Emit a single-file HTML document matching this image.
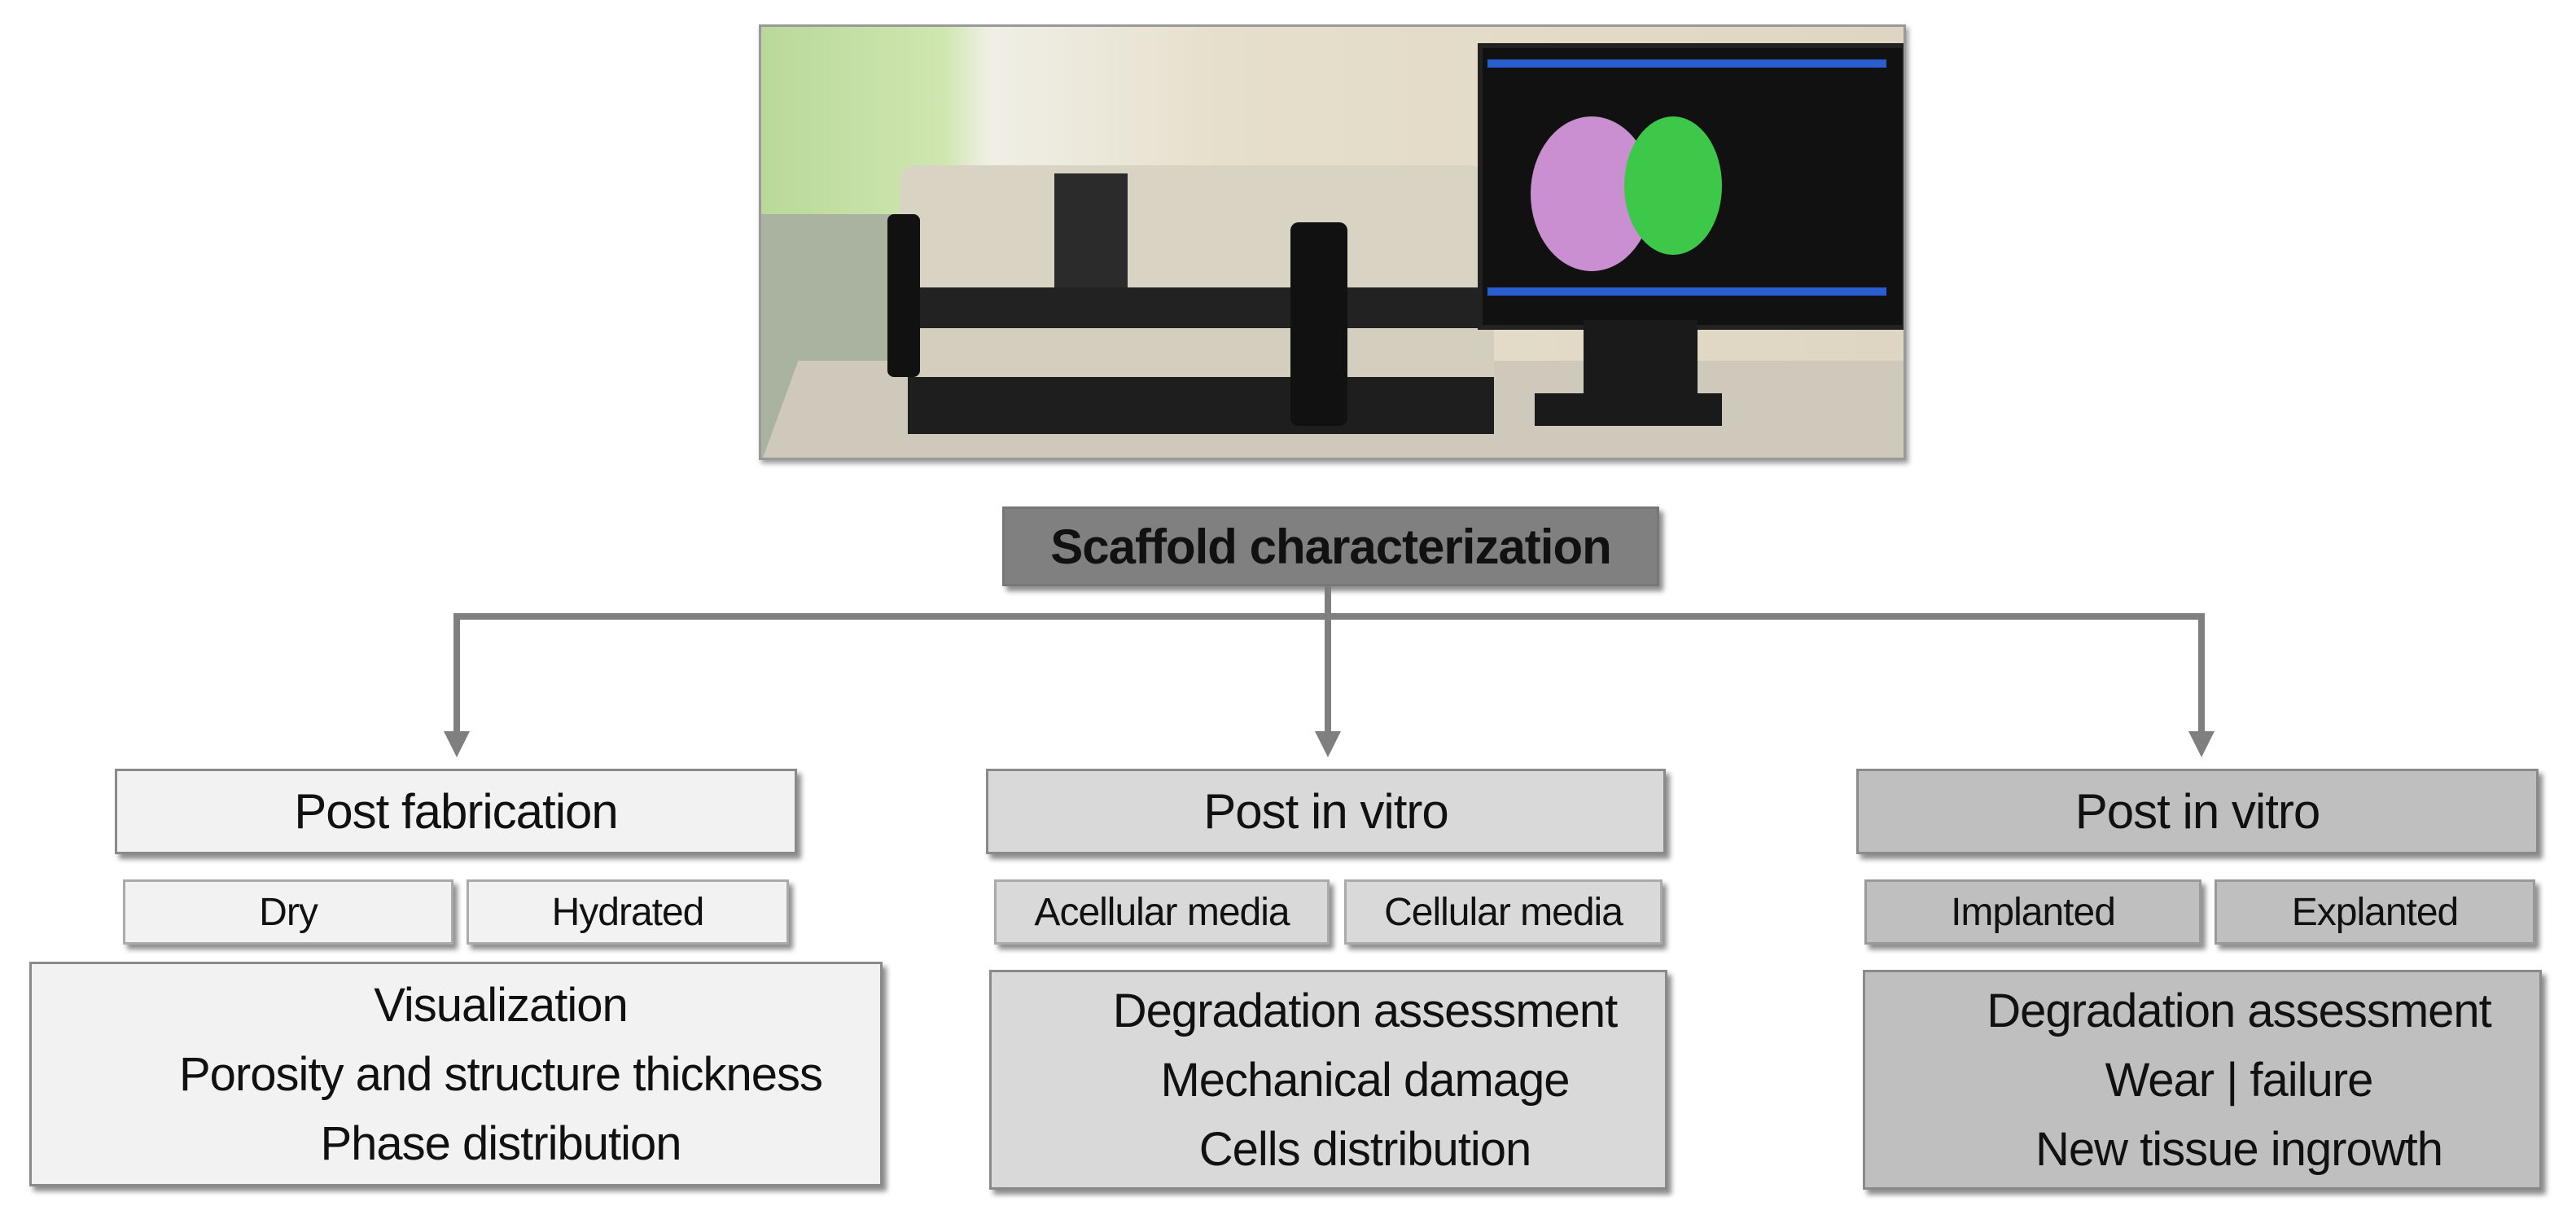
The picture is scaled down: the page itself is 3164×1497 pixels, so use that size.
<!DOCTYPE html>
<html><head><meta charset="utf-8"><style>
body{margin:0;width:3164px;height:1497px;background:#fff;position:relative;overflow:hidden;font-family:"Liberation Sans",sans-serif;color:#111}
.b{position:absolute;box-sizing:border-box;border:3px solid #8a8a8a;box-shadow:5px 6px 6px rgba(0,0,0,.45);display:flex;align-items:center;justify-content:center;letter-spacing:-1px;white-space:nowrap}
.t{font-size:60px}.s{font-size:48px}
.big{flex-direction:column;font-size:58px;line-height:85px;padding-left:90px}
.ln{position:absolute;background:#7f7f7f}
</style></head><body>
<!-- photo -->
<div style="position:absolute;left:932px;top:30px;width:1409px;height:535px;border:3px solid #999;box-sizing:border-box;overflow:hidden;background:linear-gradient(90deg,#b9d99a 0,#cfe6b0 16%,#f0efe6 20%,#e6dfcc 40%,#ded6c2 100%);box-shadow:3px 4px 6px rgba(0,0,0,.4)">
 <div style="position:absolute;left:0;top:230px;width:200px;height:305px;background:#a9b3a0"></div>
 <div style="position:absolute;left:20px;top:410px;width:1400px;height:140px;background:#cfc9bb;transform:skewX(-20deg)"></div>
 <div style="position:absolute;left:170px;top:170px;width:720px;height:150px;background:#d9d3c3;border-radius:20px 20px 0 0"></div>
 <div style="position:absolute;left:360px;top:180px;width:90px;height:140px;background:#2b2b2b"></div>
 <div style="position:absolute;left:160px;top:320px;width:740px;height:50px;background:#222"></div>
 <div style="position:absolute;left:180px;top:370px;width:720px;height:60px;background:#d4cebe"></div>
 <div style="position:absolute;left:180px;top:430px;width:720px;height:70px;background:#1e1e1e"></div>
 <div style="position:absolute;left:155px;top:230px;width:40px;height:200px;background:#111;border-radius:8px"></div>
 <div style="position:absolute;left:650px;top:240px;width:70px;height:250px;background:#111;border-radius:10px"></div>
 <div style="position:absolute;left:880px;top:20px;width:515px;height:340px;background:#111;border:6px solid #222"></div>
 <div style="position:absolute;left:892px;top:40px;width:490px;height:10px;background:#2a5dd0"></div>
 <div style="position:absolute;left:892px;top:320px;width:490px;height:10px;background:#2a5dd0"></div>
 <div style="position:absolute;left:945px;top:110px;width:150px;height:190px;border-radius:50%;background:#c98fd0"></div>
 <div style="position:absolute;left:1060px;top:110px;width:120px;height:170px;border-radius:50%;background:#3ec84a"></div>
 <div style="position:absolute;left:1010px;top:360px;width:140px;height:100px;background:#1a1a1a"></div>
 <div style="position:absolute;left:950px;top:450px;width:230px;height:40px;background:#1a1a1a"></div>
</div>
<!-- scaffold -->
<div class="b" style="left:1231px;top:622px;width:807px;height:98px;background:#808080;border-color:#777;font-weight:bold;font-size:60px">Scaffold characterization</div>
<!-- connectors -->
<div class="ln" style="left:1627px;top:720px;width:8px;height:40px"></div>
<div class="ln" style="left:557px;top:753px;width:2151px;height:8px"></div>
<div class="ln" style="left:557px;top:753px;width:8px;height:150px"></div>
<div class="ln" style="left:1627px;top:753px;width:8px;height:150px"></div>
<div class="ln" style="left:2700px;top:753px;width:8px;height:150px"></div>
<svg style="position:absolute;left:0;top:0" width="3164" height="1497">
<polygon points="545,898 577,898 561,930" fill="#7f7f7f"/>
<polygon points="1615,898 1647,898 1631,930" fill="#7f7f7f"/>
<polygon points="2688,898 2720,898 2704,930" fill="#7f7f7f"/>
</svg>
<!-- col1 -->
<div class="b t" style="left:141px;top:944px;width:838px;height:105px;background:#f2f2f2">Post fabrication</div>
<div class="b s" style="left:151px;top:1080px;width:406px;height:80px;background:#f2f2f2;border-color:#aaa">Dry</div>
<div class="b s" style="left:573px;top:1080px;width:396px;height:80px;background:#f2f2f2;border-color:#aaa">Hydrated</div>
<div class="b big" style="left:36px;top:1181px;width:1048px;height:276px;background:#f2f2f2;padding-left:110px"><div>Visualization</div><div>Porosity and structure thickness</div><div>Phase distribution</div></div>
<!-- col2 -->
<div class="b t" style="left:1211px;top:944px;width:835px;height:105px;background:#d9d9d9">Post in vitro</div>
<div class="b s" style="left:1221px;top:1080px;width:412px;height:80px;background:#d9d9d9;border-color:#aaa">Acellular media</div>
<div class="b s" style="left:1651px;top:1080px;width:391px;height:80px;background:#d9d9d9;border-color:#aaa">Cellular media</div>
<div class="b big" style="left:1215px;top:1191px;width:833px;height:270px;background:#d9d9d9"><div>Degradation assessment</div><div>Mechanical damage</div><div>Cells distribution</div></div>
<!-- col3 -->
<div class="b t" style="left:2280px;top:944px;width:838px;height:105px;background:#bfbfbf">Post in vitro</div>
<div class="b s" style="left:2290px;top:1080px;width:414px;height:80px;background:#bfbfbf;border-color:#999">Implanted</div>
<div class="b s" style="left:2720px;top:1080px;width:394px;height:80px;background:#bfbfbf;border-color:#999">Explanted</div>
<div class="b big" style="left:2288px;top:1191px;width:834px;height:270px;background:#bfbfbf"><div>Degradation assessment</div><div>Wear | failure</div><div>New tissue ingrowth</div></div>
</body></html>
